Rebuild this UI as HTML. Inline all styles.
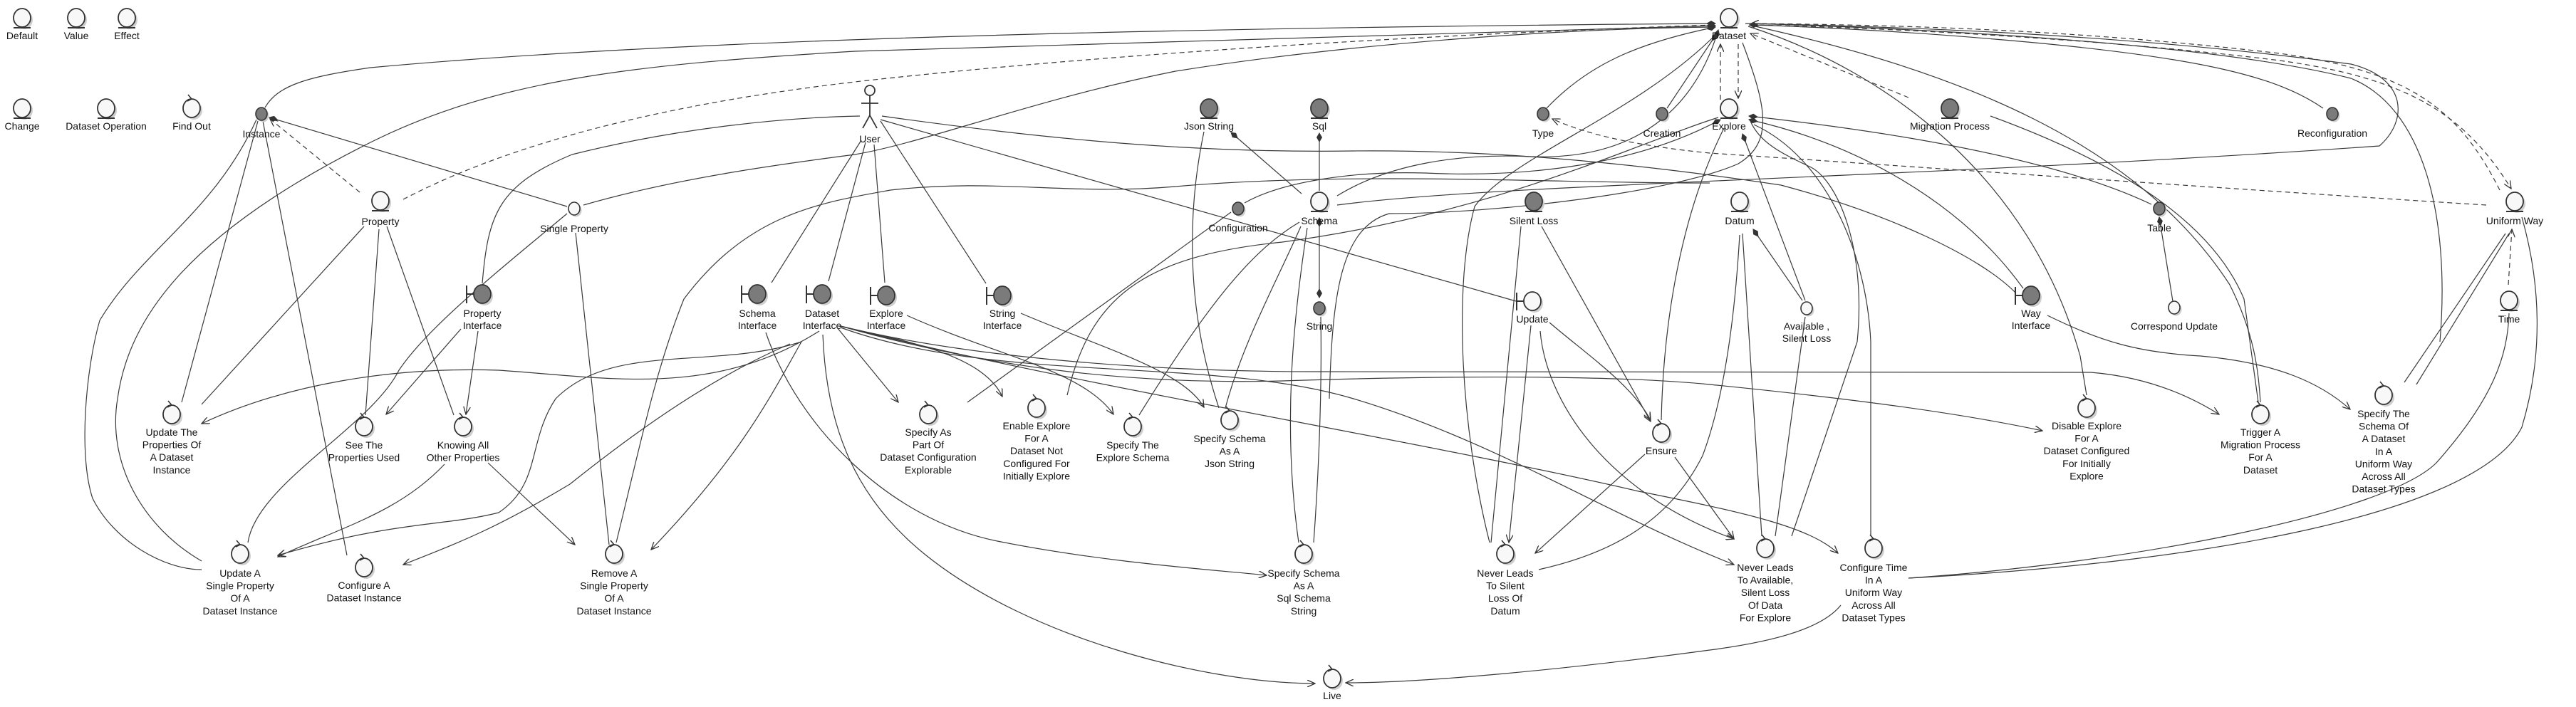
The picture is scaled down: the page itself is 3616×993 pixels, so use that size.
<!DOCTYPE html>
<html><head><meta charset="utf-8"><style>
html,body{margin:0;padding:0;background:#fff;}
svg{display:block;}
text{font-family:"Liberation Sans",sans-serif;font-size:14px;fill:#111;text-anchor:middle;}
.e{fill:none;stroke:#3a3a3a;stroke-width:1.2;}
.d{fill:none;stroke:#3a3a3a;stroke-width:1.2;stroke-dasharray:7,5;}
</style></head><body>
<svg width="3616" height="993" viewBox="0 0 3616 993" xmlns="http://www.w3.org/2000/svg">
<defs>
<marker id="a" viewBox="0 0 12 10" refX="11" refY="5" markerWidth="12" markerHeight="10" orient="auto" markerUnits="userSpaceOnUse"><path d="M0,0 L11,5 L0,10" fill="none" stroke="#333" stroke-width="1.3"/></marker>
<marker id="dm" viewBox="0 0 14 8" refX="13" refY="4" markerWidth="14" markerHeight="8" orient="auto" markerUnits="userSpaceOnUse"><path d="M0,4 L7,0 L14,4 L7,8Z" fill="#333"/></marker>
<g id="entW"><ellipse cx="3" cy="3" rx="12" ry="13" fill="#cfcfcf"/><ellipse cx="0" cy="0" rx="12" ry="13" fill="#f8f8f8" stroke="#333" stroke-width="1.8"/><line x1="-12" y1="14" x2="12" y2="14" stroke="#333" stroke-width="2"/></g>
<g id="entD"><ellipse cx="3" cy="3" rx="12" ry="13" fill="#cfcfcf"/><ellipse cx="0" cy="0" rx="12" ry="13" fill="#7b7b7b" stroke="#333" stroke-width="1.8"/><line x1="-12" y1="14" x2="12" y2="14" stroke="#333" stroke-width="2"/></g>
<g id="smD"><ellipse cx="2.5" cy="2.5" rx="8" ry="9" fill="#cfcfcf"/><ellipse cx="0" cy="0" rx="8" ry="9" fill="#7b7b7b" stroke="#333" stroke-width="1.6"/></g>
<g id="smW"><ellipse cx="2.5" cy="2.5" rx="8" ry="9" fill="#cfcfcf"/><ellipse cx="0" cy="0" rx="8" ry="9" fill="#f8f8f8" stroke="#333" stroke-width="1.6"/></g>
<g id="ctl"><ellipse cx="3" cy="3" rx="12" ry="13" fill="#cfcfcf"/><ellipse cx="0" cy="0" rx="12" ry="13" fill="#f8f8f8" stroke="#333" stroke-width="1.8"/><path d="M-5,-19 L0,-13 L-6,-10" fill="none" stroke="#333" stroke-width="1.6"/></g>
<g id="bndD"><ellipse cx="3" cy="3" rx="12" ry="13" fill="#cfcfcf"/><line x1="-22" y1="-12" x2="-22" y2="13" stroke="#333" stroke-width="2"/><line x1="-22" y1="0" x2="-12" y2="0" stroke="#333" stroke-width="2"/><ellipse cx="0" cy="0" rx="12" ry="13" fill="#7b7b7b" stroke="#333" stroke-width="1.8"/></g>
<g id="bndW"><ellipse cx="3" cy="3" rx="12" ry="13" fill="#cfcfcf"/><line x1="-22" y1="-12" x2="-22" y2="13" stroke="#333" stroke-width="2"/><line x1="-22" y1="0" x2="-12" y2="0" stroke="#333" stroke-width="2"/><ellipse cx="0" cy="0" rx="12" ry="13" fill="#f8f8f8" stroke="#333" stroke-width="1.8"/></g>
</defs>

<!-- edges -->
<g>
<path class="e" marker-end="url(#dm)" d="M372,151 C390,120 430,108 520,95 C900,60 1500,40 2408,33"/>
<path class="e" marker-end="url(#dm)" d="M283,788 C200,740 150,650 165,560 C180,450 260,330 520,200 C700,110 900,90 1200,72 L2408,36"/>
<path class="e" d="M360,168 C300,300 200,350 140,450 C120,520 110,640 130,700 C160,760 230,800 283,800"/>
<path class="d" d="M566,280 C700,210 900,150 1200,115 C1600,70 2100,45 2408,35"/>
<path class="d" marker-end="url(#a)" d="M505,270 L379,167"/>
<path class="e" marker-end="url(#dm)" d="M796,290 L378,165"/>
<path class="e" d="M819,288 C950,250 1100,230 1200,217 C1300,200 1450,140 1650,100 C1900,60 2200,40 2408,38"/>
<path class="e" d="M796,300 C700,380 600,460 560,520 C520,600 360,680 348,762"/>
<path class="e" d="M808,327 L855,765"/>
<path class="e" d="M362,170 L255,565"/>
<path class="e" d="M369,170 L487,780"/>
<path class="e" d="M511,318 L283,568"/>
<path class="e" d="M532,322 L513,583"/>
<path class="e" d="M543,318 L637,583"/>
<path class="e" marker-end="url(#a)" d="M647,462 L542,582"/>
<path class="e" marker-end="url(#a)" d="M671,465 L654,582"/>
<path class="e" d="M677,398 C685,300 700,260 803,217 C950,180 1100,165 1207,163"/>
<path class="e" d="M1209,197 L1083,397"/>
<path class="e" d="M1215,200 L1163,395"/>
<path class="e" d="M1227,203 L1242,397"/>
<path class="e" d="M1236,170 L1384,398"/>
<path class="e" d="M1236,168 L2128,423"/>
<path class="e" d="M1238,163 C1500,200 1700,215 1900,212 C2100,210 2300,230 2500,260 C2650,300 2780,360 2830,412"/>
<path class="e" marker-end="url(#dm)" d="M1827,272 L1728,186"/>
<path class="e" marker-end="url(#dm)" d="M1852,268 L1852,187"/>
<path class="e" marker-start="url(#dm)" marker-end="url(#dm)" d="M1852,318 L1852,418"/>
<path class="e" d="M1835,320 C1815,450 1800,600 1823,762"/>
<path class="e" d="M1826,318 C1790,400 1745,480 1720,573"/>
<path class="e" d="M1824,312 C1760,350 1700,420 1599,583"/>
<path class="e" d="M1690,185 C1670,280 1660,420 1711,573"/>
<path class="e" d="M1854,445 C1856,560 1850,680 1844,762"/>
<path class="e" d="M1728,298 L1358,565"/>
<path class="e" marker-end="url(#dm)" d="M1747,285 C1800,255 1900,240 2000,243 C2150,250 2300,230 2415,168"/>
<path class="e" marker-end="url(#dm)" d="M1877,275 C1950,230 2050,215 2150,220 C2300,225 2380,150 2412,42"/>
<path class="e" d="M1877,288 C2100,258 2700,250 3340,205 C3380,170 3380,110 3300,90 C3000,50 2700,38 2450,33"/>
<path class="e" d="M865,762 C900,620 920,520 960,420 C1050,300 1150,285 1250,267 C1400,250 1500,275 1650,262 C1900,240 2200,258 2400,257"/>
<path class="e" marker-end="url(#a)" d="M1273,443 C1400,500 1520,520 1563,582"/>
<path class="e" marker-end="url(#a)" d="M1433,440 C1550,490 1660,520 1690,572"/>
<path class="e" marker-end="url(#a)" d="M1150,465 C1000,560 850,530 700,520 C550,515 400,540 283,595"/>
<path class="e" marker-end="url(#a)" d="M1125,480 C1000,520 860,480 780,560 C740,620 760,680 700,720 C620,740 560,730 390,780"/>
<path class="e" marker-end="url(#a)" d="M624,652 C560,720 480,740 390,782"/>
<path class="e" marker-end="url(#a)" d="M1109,483 C1000,530 900,600 800,680 C700,740 650,760 566,793"/>
<path class="e" marker-end="url(#a)" d="M1125,480 C1080,560 1040,640 914,772"/>
<path class="e" marker-end="url(#a)" d="M685,650 L807,765"/>
<path class="e" marker-end="url(#a)" d="M1175,460 L1261,565"/>
<path class="e" marker-end="url(#a)" d="M1178,458 C1280,480 1380,500 1407,557"/>
<path class="e" marker-end="url(#a)" d="M1155,470 C1160,600 1200,700 1300,780 C1450,900 1700,960 1846,960"/>
<path class="e" marker-end="url(#a)" d="M1075,467 C1120,600 1250,730 1400,760 C1550,790 1700,800 1778,808"/>
<path class="e" marker-end="url(#a)" d="M1180,460 C1400,540 1700,500 1900,560 C2100,620 2250,720 2434,793"/>
<path class="e" marker-end="url(#a)" d="M1180,458 C1500,540 2000,620 2300,690 C2450,720 2540,740 2580,777"/>
<path class="e" marker-end="url(#a)" d="M1180,458 C1400,520 1600,540 1800,535 C2100,525 2300,530 2400,540 C2600,560 2750,580 2867,605"/>
<path class="e" marker-end="url(#a)" d="M1180,458 C1350,500 1600,522 1850,522 L2935,523 C3020,530 3080,560 3115,582"/>
<path class="e" marker-end="url(#a)" d="M2874,443 C2950,480 3000,495 3089,500 C3200,510 3260,540 3299,575"/>
<path class="e" marker-end="url(#a)" d="M2164,318 L2317,592"/>
<path class="e" d="M2135,318 L2093,762"/>
<path class="e" marker-end="url(#a)" d="M2149,457 L2118,762"/>
<path class="e" marker-end="url(#a)" d="M2175,453 C2230,500 2290,540 2317,590"/>
<path class="e" marker-end="url(#a)" d="M2162,465 C2170,560 2250,690 2434,757"/>
<path class="e" marker-end="url(#a)" d="M2309,638 L2155,777"/>
<path class="e" marker-end="url(#a)" d="M2351,642 L2434,757"/>
<path class="e" d="M2442,330 C2435,450 2420,560 2390,640 C2340,740 2250,780 2160,800"/>
<path class="e" d="M2446,328 L2473,753"/>
<path class="e" marker-end="url(#dm)" d="M2530,422 L2461,322"/>
<path class="e" marker-end="url(#dm)" d="M2534,422 L2446,188"/>
<path class="e" d="M2534,445 L2492,753"/>
<path class="e" marker-end="url(#dm)" d="M3020,287 C2900,230 2700,190 2455,163"/>
<path class="e" marker-end="url(#dm)" d="M2840,405 C2750,280 2600,200 2455,168"/>
<path class="e" d="M1498,555 C1530,420 1600,360 1800,340 C2100,300 2300,200 2412,165"/>
<path class="e" d="M2420,180 C2360,300 2335,450 2332,590"/>
<path class="e" d="M2454,37 C2650,100 2850,250 2920,500 L2929,555"/>
<path class="e" d="M2455,35 C2750,100 3000,200 3130,400 C3165,470 3170,520 3173,565"/>
<path class="e" d="M2794,163 C2950,220 3100,300 3150,420 L3170,565"/>
<path class="e" d="M2446,60 C2480,150 2490,200 2440,230 C2350,270 2100,300 1950,300 C1880,320 1870,420 1866,560"/>
<path class="e" d="M2091,762 C2050,600 2040,400 2070,290 C2120,220 2300,160 2412,45"/>
<path class="e" d="M2607,480 C2620,350 2580,250 2538,233 C2500,215 2470,200 2457,170"/>
<path class="e" d="M2626,753 L2626,480 C2620,350 2560,220 2462,175"/>
<path class="e" d="M2515,753 L2607,480"/>
<path class="e" marker-end="url(#a)" d="M2584,850 C2560,880 2500,900 2400,913 C2200,940 2000,959 1889,959"/>
<path class="e" d="M2679,812 C3000,790 3350,720 3420,650 C3500,560 3520,500 3522,440"/>
<path class="e" d="M2679,812 C3100,790 3480,720 3540,600 C3570,500 3567,400 3540,305"/>
<path class="e" d="M3517,328 L3375,537"/>
<path class="e" d="M3522,328 L3392,540"/>
<path class="d" marker-end="url(#a)" d="M3521,400 L3526,322"/>
<path class="d" marker-end="url(#a)" d="M3509,267 C3450,150 3380,100 3200,75 C2900,40 2650,35 2458,33"/>
<path class="d" marker-end="url(#a)" d="M2458,35 C2700,40 3000,60 3200,85 C3380,110 3460,160 3525,265"/>
<path class="d" marker-end="url(#a)" d="M3490,288 C3200,270 2700,235 2400,215 C2300,205 2230,190 2179,167"/>
<path class="e" marker-end="url(#dm)" d="M3050,423 L3031,305"/>
<path class="e" marker-end="url(#dm)" d="M3261,152 C3200,110 3100,80 2800,55 C2650,42 2500,36 2456,35"/>
<path class="e" d="M3425,480 C3440,300 3400,150 3300,110 C3100,60 2700,40 2456,33"/>
<path class="e" marker-end="url(#dm)" d="M2171,152 C2230,90 2300,60 2408,38"/>
<path class="e" marker-end="url(#dm)" d="M2340,152 L2410,47"/>
<path class="d" marker-end="url(#a)" d="M2415,140 L2415,62"/>
<path class="d" marker-end="url(#a)" d="M2440,62 L2440,138"/>
<path class="d" marker-end="url(#a)" d="M2679,137 L2457,47"/>
</g>

<!-- nodes -->
<use href="#entW" x="31" y="25"/><text x="31" y="55">Default</text>
<use href="#entW" x="107" y="25"/><text x="107" y="55">Value</text>
<use href="#entW" x="178" y="25"/><text x="178" y="55">Effect</text>
<use href="#entW" x="31" y="152"/><text x="31" y="182">Change</text>
<use href="#entW" x="149" y="152"/><text x="149" y="182">Dataset Operation</text>
<use href="#ctl" x="269" y="152"/><text x="269" y="182">Find Out</text>
<use href="#smD" x="367" y="160"/><text x="367" y="193">Instance</text>
<use href="#entW" x="534" y="282"/><text x="534" y="316">Property</text>
<use href="#smW" x="806" y="293"/><text x="806" y="326">Single Property</text>
<use href="#bndD" x="677" y="413"/><text x="677" y="445">Property</text><text x="677" y="462">Interface</text>
<use href="#bndD" x="1063" y="413"/><text x="1063" y="445">Schema</text><text x="1063" y="462">Interface</text>
<use href="#bndD" x="1154" y="413"/><text x="1154" y="445">Dataset</text><text x="1154" y="462">Interface</text>
<use href="#bndD" x="1244" y="415"/><text x="1244" y="445">Explore</text><text x="1244" y="462">Interface</text>
<use href="#bndD" x="1407" y="415"/><text x="1407" y="445">String</text><text x="1407" y="462">Interface</text>
<use href="#bndW" x="2151" y="423"/><text x="2151" y="453">Update</text>
<use href="#bndD" x="2851" y="415"/><text x="2851" y="445">Way</text><text x="2851" y="462">Interface</text>
<!-- actor -->
<g stroke="#333" stroke-width="1.8" fill="none">
<circle cx="1221" cy="127" r="7" fill="#f8f8f8"/>
<line x1="1221" y1="134" x2="1221" y2="162"/>
<line x1="1209" y1="145" x2="1233" y2="145"/>
<line x1="1221" y1="162" x2="1211" y2="180"/>
<line x1="1221" y1="162" x2="1231" y2="180"/>
</g>
<text x="1221" y="200">User</text>
<use href="#entD" x="1697" y="152"/><text x="1697" y="182">Json String</text>
<use href="#entD" x="1852" y="152"/><text x="1852" y="182">Sql</text>
<use href="#smD" x="2166" y="160"/><text x="2166" y="192">Type</text>
<use href="#smD" x="2333" y="160"/><text x="2333" y="192">Creation</text>
<use href="#smD" x="1738" y="293"/><text x="1738" y="325">Configuration</text>
<use href="#entW" x="1852" y="283"/><text x="1852" y="315">Schema</text>
<use href="#entD" x="2153" y="283"/><text x="2153" y="315">Silent Loss</text>
<use href="#smD" x="1852" y="433"/><text x="1852" y="463">String</text>
<use href="#entW" x="2427" y="25"/><text x="2427" y="55">Dataset</text>
<use href="#entW" x="2427" y="152"/><text x="2427" y="182">Explore</text>
<use href="#entD" x="2737" y="152"/><text x="2737" y="182">Migration Process</text>
<use href="#smD" x="3274" y="160"/><text x="3274" y="192">Reconfiguration</text>
<use href="#entW" x="2442" y="283"/><text x="2442" y="315">Datum</text>
<use href="#smD" x="3031" y="293"/><text x="3031" y="325">Table</text>
<use href="#entW" x="3530" y="283"/><text x="3530" y="315">Uniform Way</text>
<use href="#smW" x="2536" y="433"/><text x="2536" y="463">Available ,</text><text x="2536" y="480">Silent Loss</text>
<use href="#smW" x="3052" y="432"/><text x="3052" y="463">Correspond Update</text>
<use href="#entW" x="3522" y="422"/><text x="3522" y="453">Time</text>

<!-- controls -->
<use href="#ctl" x="241" y="582"/><text x="241" y="612"><tspan x="241">Update The</tspan><tspan x="241" dy="17.6">Properties Of</tspan><tspan x="241" dy="17.6">A Dataset</tspan><tspan x="241" dy="17.6">Instance</tspan></text>
<use href="#ctl" x="511" y="599"/><text x="511" y="630"><tspan x="511">See The</tspan><tspan x="511" dy="17.6">Properties Used</tspan></text>
<use href="#ctl" x="650" y="599"/><text x="650" y="630"><tspan x="650">Knowing All</tspan><tspan x="650" dy="17.6">Other Properties</tspan></text>
<use href="#ctl" x="337" y="778"/><text x="337" y="810"><tspan x="337">Update A</tspan><tspan x="337" dy="17.6">Single Property</tspan><tspan x="337" dy="17.6">Of A</tspan><tspan x="337" dy="17.6">Dataset Instance</tspan></text>
<use href="#ctl" x="511" y="797"/><text x="511" y="827"><tspan x="511">Configure A</tspan><tspan x="511" dy="17.6">Dataset Instance</tspan></text>
<use href="#ctl" x="862" y="778"/><text x="862" y="810"><tspan x="862">Remove A</tspan><tspan x="862" dy="17.6">Single Property</tspan><tspan x="862" dy="17.6">Of A</tspan><tspan x="862" dy="17.6">Dataset Instance</tspan></text>
<use href="#ctl" x="1303" y="582"/><text x="1303" y="612"><tspan x="1303">Specify As</tspan><tspan x="1303" dy="17.6">Part Of</tspan><tspan x="1303" dy="17.6">Dataset Configuration</tspan><tspan x="1303" dy="17.6">Explorable</tspan></text>
<use href="#ctl" x="1455" y="573"/><text x="1455" y="603"><tspan x="1455">Enable Explore</tspan><tspan x="1455" dy="17.6">For A</tspan><tspan x="1455" dy="17.6">Dataset Not</tspan><tspan x="1455" dy="17.6">Configured For</tspan><tspan x="1455" dy="17.6">Initially Explore</tspan></text>
<use href="#ctl" x="1590" y="599"/><text x="1590" y="630"><tspan x="1590">Specify The</tspan><tspan x="1590" dy="17.6">Explore Schema</tspan></text>
<use href="#ctl" x="1726" y="590"/><text x="1726" y="621"><tspan x="1726">Specify Schema</tspan><tspan x="1726" dy="17.6">As A</tspan><tspan x="1726" dy="17.6">Json String</tspan></text>
<use href="#ctl" x="1830" y="778"/><text x="1830" y="810"><tspan x="1830">Specify Schema</tspan><tspan x="1830" dy="17.6">As A</tspan><tspan x="1830" dy="17.6">Sql Schema</tspan><tspan x="1830" dy="17.6">String</tspan></text>
<use href="#ctl" x="2113" y="778"/><text x="2113" y="810"><tspan x="2113">Never Leads</tspan><tspan x="2113" dy="17.6">To Silent</tspan><tspan x="2113" dy="17.6">Loss Of</tspan><tspan x="2113" dy="17.6">Datum</tspan></text>
<use href="#ctl" x="2332" y="608"/><text x="2332" y="638">Ensure</text>
<use href="#ctl" x="1870" y="953"/><text x="1870" y="982">Live</text>
<use href="#ctl" x="2478" y="770"/><text x="2478" y="802"><tspan x="2478">Never Leads</tspan><tspan x="2478" dy="17.6">To Available,</tspan><tspan x="2478" dy="17.6">Silent Loss</tspan><tspan x="2478" dy="17.6">Of Data</tspan><tspan x="2478" dy="17.6">For Explore</tspan></text>
<use href="#ctl" x="2630" y="770"/><text x="2630" y="802"><tspan x="2630">Configure Time</tspan><tspan x="2630" dy="17.6">In A</tspan><tspan x="2630" dy="17.6">Uniform Way</tspan><tspan x="2630" dy="17.6">Across All</tspan><tspan x="2630" dy="17.6">Dataset Types</tspan></text>
<use href="#ctl" x="2929" y="573"/><text x="2929" y="603"><tspan x="2929">Disable Explore</tspan><tspan x="2929" dy="17.6">For A</tspan><tspan x="2929" dy="17.6">Dataset Configured</tspan><tspan x="2929" dy="17.6">For Initially</tspan><tspan x="2929" dy="17.6">Explore</tspan></text>
<use href="#ctl" x="3173" y="582"/><text x="3173" y="612"><tspan x="3173">Trigger A</tspan><tspan x="3173" dy="17.6">Migration Process</tspan><tspan x="3173" dy="17.6">For A</tspan><tspan x="3173" dy="17.6">Dataset</tspan></text>
<use href="#ctl" x="3346" y="555"/><text x="3346" y="586"><tspan x="3346">Specify The</tspan><tspan x="3346" dy="17.6">Schema Of</tspan><tspan x="3346" dy="17.6">A Dataset</tspan><tspan x="3346" dy="17.6">In A</tspan><tspan x="3346" dy="17.6">Uniform Way</tspan><tspan x="3346" dy="17.6">Across All</tspan><tspan x="3346" dy="17.6">Dataset Types</tspan></text>
</svg>
</body></html>
